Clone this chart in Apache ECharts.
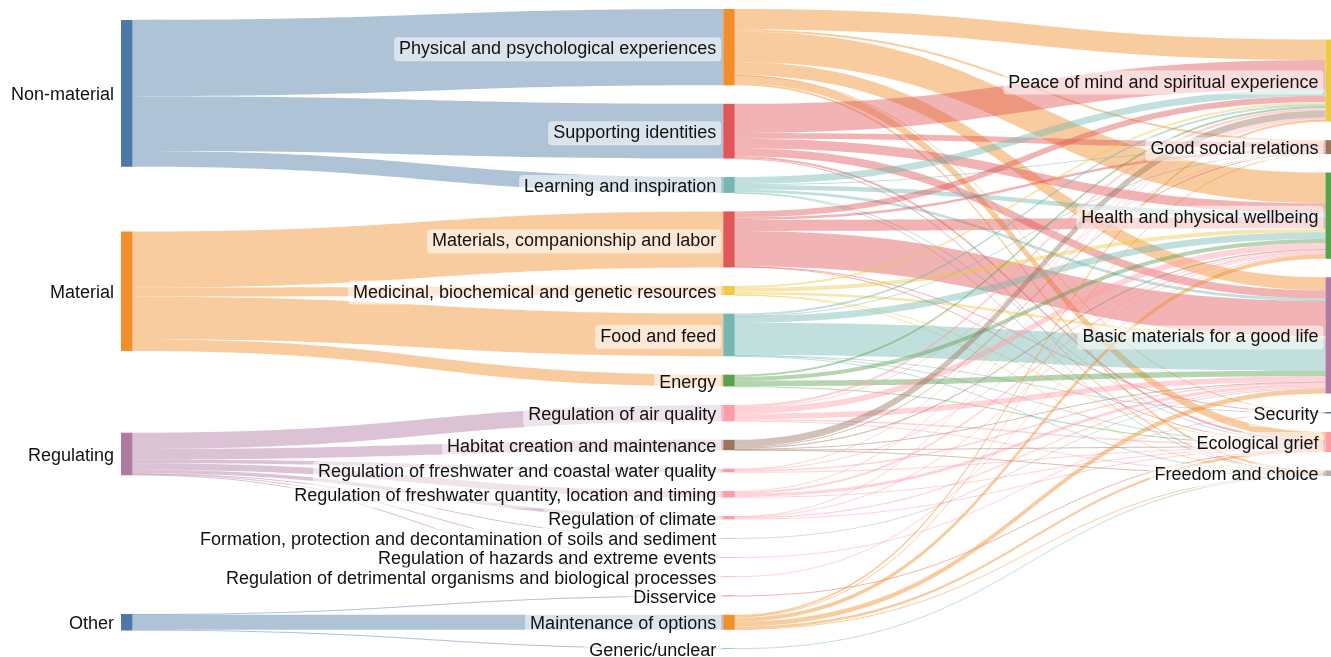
<!DOCTYPE html>
<html>
<head>
<meta charset="utf-8">
<script src="https://cdn.jsdelivr.net/npm/echarts@6/dist/echarts.min.js"></script>
<style>
html,body{margin:0;padding:0;background:#ffffff;}
#chart{width:1331px;height:657px;}
</style>
</head>
<body>
<div id="chart"></div>
<script>
// ---------- DATA ----------
const leftNodes = ['Non-material', 'Material', 'Regulating', 'Other'];

const middleNodes = [
  'Physical and psychological experiences',
  'Supporting identities',
  'Learning and inspiration',
  'Materials, companionship and labor',
  'Medicinal, biochemical and genetic resources',
  'Food and feed',
  'Energy',
  'Regulation of air quality',
  'Habitat creation and maintenance',
  'Regulation of freshwater and coastal water quality',
  'Regulation of freshwater quantity, location and timing',
  'Regulation of climate',
  'Formation, protection and decontamination of soils and sediment',
  'Regulation of hazards and extreme events',
  'Regulation of detrimental organisms and biological processes',
  'Disservice',
  'Maintenance of options',
  'Generic/unclear'
];

const rightNodes = [
  'Peace of mind and spiritual experience',
  'Good social relations',
  'Health and physical wellbeing',
  'Basic materials for a good life',
  'Security',
  'Ecological grief',
  'Freedom and choice'
];

// parent (left node) of each middle node
const middleParent = [
  'Non-material', 'Non-material', 'Non-material',
  'Material', 'Material', 'Material', 'Material',
  'Regulating', 'Regulating', 'Regulating', 'Regulating', 'Regulating',
  'Regulating', 'Regulating', 'Regulating',
  'Other', 'Other', 'Other'
];

// flow from parent to each middle node
const leftToMiddleValues = [
  76, 54.5, 15.8,
  55.8, 9.1, 42.4, 11.7,
  16.3, 10.3, 3.7, 6.7, 3.3, 0.7, 0.7, 0.7,
  0.7, 15, 0.7
];

// flows middle -> right; columns follow rightNodes order
// [Peace, Social, Health, Basic, Security, Eco grief, Freedom]
const middleToRight = [
  [20.3, 2, 30.5, 13, 0.2, 8, 2],
  [29, 5.7, 9.5, 8, 0, 2, 0.3],
  [7, 1, 4.5, 2.5, 0, 0.5, 0.3],
  [6, 2.5, 11, 35, 0.3, 1, 0],
  [2, 0, 4, 2.5, 0, 0.3, 0.3],
  [2, 0.5, 6.5, 32.1, 0.3, 0.7, 0.3],
  [2, 0, 4, 5.5, 0, 0.2, 0],
  [2.3, 0.5, 6, 5.5, 0, 1.5, 0.5],
  [7, 0.7, 1.3, 0.5, 0, 0.5, 0.3],
  [0.7, 0, 1, 1.5, 0, 0.5, 0],
  [1, 0, 2, 3, 0, 0.7, 0],
  [0.5, 0, 0.8, 1.2, 0, 0.8, 0],
  [0, 0, 0, 0.7, 0, 0, 0],
  [0, 0, 0, 0, 0.7, 0, 0],
  [0, 0, 0.7, 0, 0, 0, 0],
  [0, 0, 0, 0, 0, 0.7, 0],
  [2, 1, 4, 4.7, 0, 2.5, 0.8],
  [0, 0, 0, 0, 0, 0, 0.7]
];

// ---------- STYLE / LAYOUT ----------
const nodeColors = {
  'Non-material': '#4e79a7', 'Material': '#f28e2b', 'Regulating': '#b07aa1', 'Other': '#4e79a7',
  'Physical and psychological experiences': '#f28e2b',
  'Supporting identities': '#e15759',
  'Learning and inspiration': '#76b7b2',
  'Materials, companionship and labor': '#e15759',
  'Medicinal, biochemical and genetic resources': '#edc948',
  'Food and feed': '#76b7b2',
  'Energy': '#59a14f',
  'Regulation of air quality': '#ff9da7',
  'Habitat creation and maintenance': '#9c755f',
  'Regulation of freshwater and coastal water quality': '#ff9da7',
  'Regulation of freshwater quantity, location and timing': '#ff9da7',
  'Regulation of climate': '#ff9da7',
  'Formation, protection and decontamination of soils and sediment': '#bab0ac',
  'Regulation of hazards and extreme events': '#ff9da7',
  'Regulation of detrimental organisms and biological processes': '#ff9da7',
  'Disservice': '#e15759',
  'Maintenance of options': '#f28e2b',
  'Generic/unclear': '#76b7b2',
  'Peace of mind and spiritual experience': '#edc948',
  'Good social relations': '#9c755f',
  'Health and physical wellbeing': '#59a14f',
  'Basic materials for a good life': '#b07aa1',
  'Security': '#4e79a7',
  'Ecological grief': '#ff9da7',
  'Freedom and choice': '#bab0ac'
};

const SERIES_LEFT = 121, SERIES_TOP = 9, SERIES_W = 1216, SERIES_H = 640;
const NODE_W = 11.5, NODE_GAP = 18.5;
const RIGHT_COLUMN_OFFSET = 30.5; // right column block starts a little below the top

// ---------- BUILD ----------
const links = [];
middleNodes.forEach(function (m, i) {
  links.push({ source: middleParent[i], target: m, value: leftToMiddleValues[i] });
});
middleNodes.forEach(function (m, i) {
  middleToRight[i].forEach(function (v, j) {
    if (v > 0) links.push({ source: m, target: rightNodes[j], value: v });
  });
});

// node values as the library computes them (max of in/out sums)
const inSum = {}, outSum = {};
links.forEach(function (l) {
  outSum[l.source] = (outSum[l.source] || 0) + l.value;
  inSum[l.target] = (inSum[l.target] || 0) + l.value;
});
function nodeVal(n) { return Math.max(inSum[n] || 0, outSum[n] || 0); }
function colSum(col) { return col.reduce(function (s, n) { return s + nodeVal(n); }, 0); }
const columns = [leftNodes, middleNodes, rightNodes];
const ky = Math.min.apply(null, columns.map(function (c) {
  return (SERIES_H - (c.length - 1) * NODE_GAP) / colSum(c);
}));

// middle column: stacked in order (same as the library's own packing)
const midTop = {};
let acc = 0;
middleNodes.forEach(function (m) { midTop[m] = acc; acc += nodeVal(m) * ky + NODE_GAP; });
function midCenter(m) { return midTop[m] + nodeVal(m) * ky / 2; }

// left column: each node centred on the weighted centre of its targets
const localY = {};
let prevBottom = -Infinity;
leftNodes.forEach(function (n) {
  let w = 0, s = 0;
  links.forEach(function (l) {
    if (l.source === n) { s += l.value * midCenter(l.target); w += l.value; }
  });
  let top = s / w - nodeVal(n) * ky / 2;
  top = Math.max(top, prevBottom + NODE_GAP, 0);
  prevBottom = top + nodeVal(n) * ky;
  localY[n] = top / SERIES_H;
});

// right column: packed block
let rAcc = RIGHT_COLUMN_OFFSET;
rightNodes.forEach(function (n) {
  localY[n] = rAcc / SERIES_H;
  rAcc += nodeVal(n) * ky + NODE_GAP;
});

const allNodes = leftNodes.concat(middleNodes, rightNodes);
const nodes = allNodes.map(function (n) {
  const d = { name: n, itemStyle: { color: nodeColors[n], borderWidth: 0 } };
  if (localY[n] != null) d.localY = localY[n];
  return d;
});

const chart = echarts.init(document.getElementById('chart'), null, { renderer: 'canvas' });
chart.setOption({
  animation: false,
  backgroundColor: '#ffffff',
  series: [{
    type: 'sankey',
    left: SERIES_LEFT,
    top: SERIES_TOP,
    width: SERIES_W,
    height: SERIES_H,
    nodeWidth: NODE_W,
    nodeGap: NODE_GAP,
    nodeAlign: 'justify',
    layoutIterations: 0,
    draggable: false,
    emphasis: { disabled: true },
    data: nodes,
    links: links,
    lineStyle: { color: 'source', opacity: 0.45, curveness: 0.5 },
    label: {
      position: 'left',
      distance: 2,
      offset: [0, 2],
      fontFamily: 'Liberation Sans, Arial, sans-serif',
      fontSize: 18,
      color: '#111111',
      backgroundColor: 'rgba(255,255,255,0.55)',
      borderRadius: 4,
      padding: [4, 5, 2, 5]
    }
  }]
});
</script>
</body>
</html>
